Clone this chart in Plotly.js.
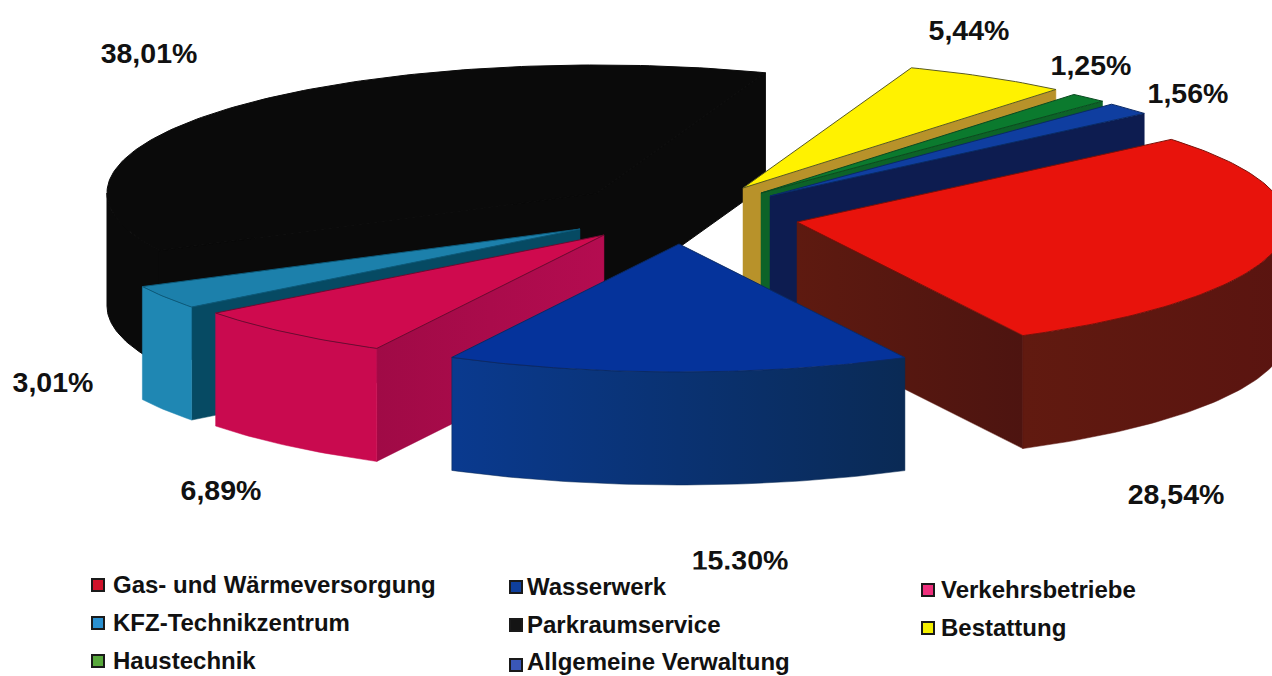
<!DOCTYPE html>
<html>
<head>
<meta charset="utf-8">
<script src="https://cdn.plot.ly/plotly-3.0.1.min.js"></script>
<style>html,body{margin:0;padding:0;background:#fff}#chart{width:1272px;height:676px}</style>
</head>
<body>
<div id="chart"></div>
<script>
// Kostenanteile je Sparte, in Prozent
const categories = ['Gas- und Wärmeversorgung','Wasserwerk','Verkehrsbetriebe','KFZ-Technikzentrum','Parkraumservice','Bestattung','Haustechnik','Allgemeine Verwaltung'];
const shares = [28.54,15.30,6.89,3.01,38.01,5.44,1.25,1.56];

// Farben: Oberseite, Außenwand links/rechts, Schnittfläche links/rechts, Kontur, Legende
const topColors  = ['#e8130c','#05339b','#cf0a4e','#1c80ab','#0a0a0a','#fff200','#0b7a2e','#0f3ea0'];
const wallLeft   = ['#611a10','#0a3a8f','#c90a4f','#1f87b3','#0a0a0a','#b8922a','#0d5c25','#0d1c50'];
const wallRight  = ['#5a1410','#0a2a55','#c90a4f','#1f87b3','#0a0a0a','#b8922a','#0d5c25','#0d1c50'];
const cutNear    = ['#4d1410','#0a3a8f','#a00a46','#064a63','#0a0a0a','#b8922a','#0d6328','#0d1c50'];
const cutFar     = ['#5e1a10','#0a2a55','#b40c50','#064a63','#0a0a0a','#b8922a','#0d6328','#0d1c50'];
const outlines   = ['#7a1008','#0a2a66','#6e0a30','#0d5a7a','#0a0a0a','#5a5a20','#0a4a20','#0a2a66'];
const keyColors  = ['#d0122a','#0f3f9c','#ee2f7c','#2a90d0','#141414','#f5f000','#58a83c','#3a57b8'];

// Projektion: Spitze jedes Segments (herausgezogen), Ellipsenradien, Höhe des Kuchens
const apexX = [797,679,604,580,597,743,761,770];
const apexY = [222,244,235,229,193,188,193,196];
const radiusX = 490, radiusY = 128, depth = 113;
const startAngle = 49.8;
const paintOrder = [4,3,2,5,6,7,0,1];

// Beschriftung der Segmente und Anordnung der Legende
const labelX = [1176,740,221,53,149,969,1091,1188];
const labelY = [497,563,493,385,56,33,68,96];
const keyX  = [98,516,928,98,516,928,98,516];
const keyY  = [585,587,590,623,625,628,661,665];
const keyTextX = [113,527,941,113,527,941,113,527];
const keyTextY = [587,589,592,625,627,630,663,664];

const angles = [];
let cursor = startAngle;
shares.forEach(s => { const a0 = cursor, a1 = cursor + s * 3.6; angles.push([a0, a1]); cursor = a1; });

const pt = (i, deg, drop) => {
  const r = deg * Math.PI / 180;
  return [apexX[i] + radiusX * Math.sin(r), apexY[i] - radiusY * Math.cos(r) + drop];
};
const arc = (i, a0, a1, drop) => {
  const out = [], n = Math.max(2, Math.ceil(Math.abs(a1 - a0)));
  for (let k = 0; k <= n; k++) out.push(pt(i, a0 + (a1 - a0) * k / n, drop));
  return out;
};
const poly = (points, color, line, gradient) => {
  const t = {
    type: 'scatter', mode: 'lines', hoverinfo: 'skip', showlegend: false,
    x: points.map(p => p[0]).concat(points[0][0]),
    y: points.map(p => p[1]).concat(points[0][1]),
    fill: 'toself', fillcolor: color,
    line: line ? {color: line, width: 1} : {color: color, width: 0.5}
  };
  if (gradient) t.fillgradient = {type: 'horizontal', colorscale: [[0, gradient[0]], [1, gradient[1]]]};
  return t;
};

const traces = [];
paintOrder.forEach(i => {
  const [a0, a1] = angles[i];
  const apexTop = [apexX[i], apexY[i]], apexLow = [apexX[i], apexY[i] + depth];
  // Das schwarze Segment bleibt ohne sichtbare Kanten
  const seam = i === 4 ? outlines[i] : null;

  // Schnittflächen, soweit sie dem Betrachter zugewandt sind
  const cosStart = Math.cos((a0 - 90) * Math.PI / 180);
  const cosEnd = Math.cos((a1 + 90) * Math.PI / 180);
  if (cosEnd < 0) {
    const e = pt(i, a1, 0), el = pt(i, a1, depth);
    traces.push(poly([apexTop, e, el, apexLow], cutFar[i], seam, e[0] < apexX[i] ? [cutNear[i], cutFar[i]] : [cutFar[i], cutNear[i]]));
  }
  if (cosStart < 0) {
    const s = pt(i, a0, 0), sl = pt(i, a0, depth);
    traces.push(poly([apexTop, s, sl, apexLow], cutNear[i], seam, s[0] < apexX[i] ? [cutNear[i], cutFar[i]] : [cutFar[i], cutNear[i]]));
  }

  // Gewölbte Außenwand im vorderen Halbkreis
  const f0 = Math.max(a0, 90), f1 = Math.min(a1, 270);
  if (f1 > f0) {
    const upper = arc(i, f0, f1, 0), lower = arc(i, f1, f0, depth);
    traces.push(poly(upper.concat(lower), wallRight[i], seam, [wallLeft[i], wallRight[i]]));
  }

  // Oberseite
  traces.push(poly([apexTop].concat(arc(i, a0, a1, 0)), topColors[i], outlines[i]));
});

const labelFont = {family: 'Liberation Sans, Arial, sans-serif', size: 28.5, color: '#111'};
const keyFont = {family: 'Liberation Sans, Arial, sans-serif', size: 24, color: '#111'};

traces.push({
  type: 'scatter', mode: 'text', hoverinfo: 'skip', showlegend: false,
  x: labelX, y: labelY,
  text: shares.map(s => '<b>' + s.toFixed(2).replace('.', ',') + '%</b>'),
  textposition: 'middle center', textfont: labelFont
});

// Die Legendenfläche liegt über den Beschriftungen
traces.push({
  type: 'scatter', mode: 'lines', hoverinfo: 'skip', showlegend: false,
  x: [0, 1272, 1272, 0, 0], y: [569.5, 569.5, 676, 676, 569.5],
  fill: 'toself', fillcolor: '#fff', line: {color: '#fff', width: 0}
});
traces.push({
  type: 'scatter', mode: 'markers', hoverinfo: 'skip', showlegend: false,
  x: keyX, y: keyY,
  marker: {symbol: 'square', size: 12, color: keyColors, line: {color: '#1a1a1a', width: 2}}
});
traces.push({
  type: 'scatter', mode: 'text', hoverinfo: 'skip', showlegend: false,
  x: keyTextX, y: keyTextY,
  text: categories.map(c => '<b>' + c + '</b>'),
  textposition: 'middle right', textfont: keyFont
});

const layout = {
  width: 1272, height: 676,
  margin: {l: 0, r: 0, t: 0, b: 0},
  paper_bgcolor: '#fff', plot_bgcolor: '#fff',
  showlegend: false,
  xaxis: {visible: false, range: [0, 1272], fixedrange: true},
  yaxis: {visible: false, range: [676, 0], fixedrange: true}
};
Plotly.newPlot('chart', traces, layout, {displayModeBar: false, staticPlot: true});
</script>
</body>
</html>
